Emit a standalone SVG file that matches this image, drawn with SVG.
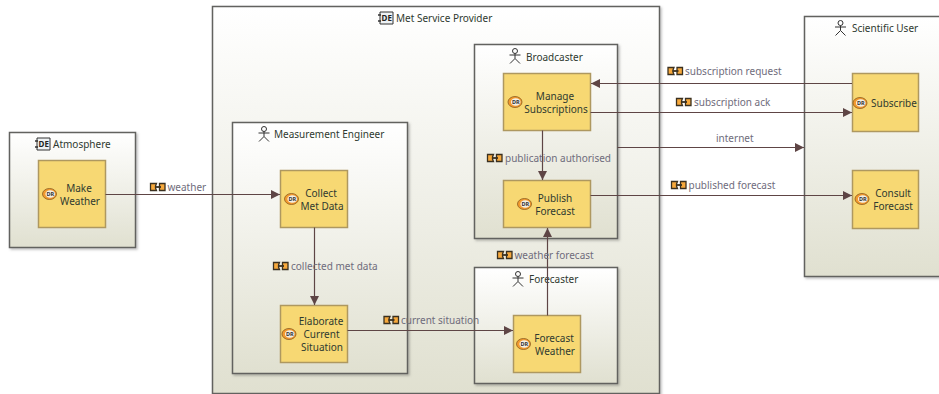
<svg xmlns="http://www.w3.org/2000/svg" xmlns:xlink="http://www.w3.org/1999/xlink" width="939" height="394" viewBox="0 0 939 394">
<style>
text{font-family:"Noto Sans","Liberation Sans",sans-serif;font-size:10px;fill:#2f3a30}
.t{text-anchor:middle}
.lbl{fill:#6f6c7c}
.box{stroke:#62625e;stroke-width:1.5}
.act{fill:#f7d873;stroke:#ae9860;stroke-width:1.5}
.con{fill:none;stroke:#5e4545;stroke-width:1.2}
.dr{font-size:5.5px;font-weight:bold;text-anchor:middle;fill:#333}
.de{font-size:8px;font-weight:bold;fill:#222;text-anchor:middle}
.st{fill:none;stroke:#333;stroke-width:1}
</style>
<defs>
<linearGradient id="g" x1="0" y1="0" x2="0" y2="1"><stop offset="0" stop-color="#ffffff"/><stop offset="1" stop-color="#e0e0d0"/></linearGradient>
<filter id="s" x="-5%" y="-5%" width="110%" height="110%"><feDropShadow dx="1.5" dy="1.5" stdDeviation="1" flood-color="#000" flood-opacity=".25"/></filter>
<marker id="a" markerUnits="userSpaceOnUse" markerWidth="10" markerHeight="10" refX="9" refY="5" orient="auto"><path d="M0 0.5L9 5L0 9.5Z" fill="#5e4545"/></marker>
<g id="dr"><ellipse cx="0" cy="0" rx="7" ry="5.5" fill="#f39a2e" stroke="#8a5a20" stroke-width=".8"/><ellipse cx="0.7" cy="0" rx="4.8" ry="3.8" fill="#f2efe6"/><text class="dr" x="0.7" y="2">DR</text></g>
<g id="ci"><path d="M-6-6H7V6H-6Z" fill="#eef2f4" stroke="#333"/><path d="M-8-3H-5M-8 3H-5" stroke="#333" stroke-width="1.5"/><text class="de" x="0.7" y="3">DE</text></g>
<g id="actor"><circle cx="0" cy="-4.500" r="2.500" class="st"/><path class="st" d="M0-2V3M-5.500-.5H5.500M-5 8L0 3L5 8"/></g>
<g id="ex"><path d="M0.500-3.500H6.500L5.500-1V1L6.500 3.500H0.500Z" fill="#f7a93c" stroke="#3a3020" stroke-width="1.300"/><path d="M9.500-3.500H15V3.500H9.500Z" fill="#f7a93c" stroke="#3a3020" stroke-width="1.300"/><path d="M5 0H11" stroke="#3a3020" stroke-width="1.800"/></g>
</defs>

<g id="atmosphere">
<rect class="box" x="9.500" y="132.500" width="126" height="115" fill="url(#g)" filter="url(#s)"/>
<use xlink:href="#ci" x="43" y="144"/>
<text x="53" y="148">Atmosphere</text>
</g>
<g id="make-weather">
<rect class="act" x="38.500" y="160.500" width="67" height="67"/>
<use xlink:href="#dr" x="49.500" y="194"/>
<text class="t" x="79" y="192">Make</text><text class="t" x="80" y="205">Weather</text>
</g>

<g id="met-service-provider">
<rect class="box" x="212.500" y="6.500" width="447" height="387" fill="url(#g)" filter="url(#s)"/>
<use xlink:href="#ci" x="386" y="18"/>
<text x="396" y="22">Met Service Provider</text>
</g>

<g id="measurement-engineer">
<rect class="box" x="232.500" y="122.500" width="175" height="251" fill="url(#g)" filter="url(#s)"/>
<use xlink:href="#actor" x="264" y="133.500"/>
<text x="274" y="138">Measurement Engineer</text>
</g>
<g id="collect-met-data">
<rect class="act" x="280.500" y="170.500" width="67" height="57"/>
<use xlink:href="#dr" x="291.500" y="199"/>
<text class="t" x="321" y="196.500">Collect</text><text class="t" x="322" y="209.500">Met Data</text>
</g>
<g id="elaborate-current-situation">
<rect class="act" x="280.500" y="305.500" width="67" height="57"/>
<use xlink:href="#dr" x="289" y="334"/>
<text class="t" x="321" y="325">Elaborate</text><text class="t" x="321.500" y="338">Current</text><text class="t" x="322" y="351">Situation</text>
</g>

<g id="broadcaster">
<rect class="box" x="474.500" y="44.500" width="143" height="194" fill="url(#g)" filter="url(#s)"/>
<use xlink:href="#actor" x="515" y="55.500"/>
<text x="526" y="61">Broadcaster</text>
</g>
<g id="manage-subscriptions">
<rect class="act" x="503.500" y="73.500" width="87" height="57"/>
<use xlink:href="#dr" x="515" y="102"/>
<text class="t" x="555" y="100">Manage</text><text class="t" x="556" y="113">Subscriptions</text>
</g>
<g id="publish-forecast">
<rect class="act" x="503.500" y="180.500" width="87" height="47"/>
<use xlink:href="#dr" x="524.500" y="204"/>
<text class="t" x="555" y="202">Publish</text><text class="t" x="555" y="215">Forecast</text>
</g>

<g id="forecaster">
<rect class="box" x="474.500" y="267.500" width="143" height="116" fill="url(#g)" filter="url(#s)"/>
<use xlink:href="#actor" x="518" y="278.500"/>
<text x="529" y="283">Forecaster</text>
</g>
<g id="forecast-weather">
<rect class="act" x="513.500" y="315.500" width="67" height="57"/>
<use xlink:href="#dr" x="523.500" y="344"/>
<text class="t" x="554" y="342">Forecast</text><text class="t" x="555" y="355">Weather</text>
</g>

<g id="scientific-user">
<rect class="box" x="804.500" y="16.500" width="140" height="260" fill="url(#g)" filter="url(#s)"/>
<use xlink:href="#actor" x="840.500" y="27.500"/>
<text x="852" y="32">Scientific User</text>
</g>
<g id="subscribe">
<rect class="act" x="852.500" y="73.500" width="66" height="58"/>
<use xlink:href="#dr" x="860" y="103"/>
<text x="871" y="107">Subscribe</text>
</g>
<g id="consult-forecast">
<rect class="act" x="852.500" y="170.500" width="66" height="58"/>
<use xlink:href="#dr" x="862" y="199"/>
<text class="t" x="893" y="197">Consult</text><text class="t" x="893" y="210">Forecast</text>
</g>

<g id="connectors">
<path class="con" marker-end="url(#a)" d="M105.500 194.500H280"/>
<path class="con" marker-end="url(#a)" d="M314.500 227.500V305"/>
<path class="con" marker-end="url(#a)" d="M347.500 330.500H513"/>
<path class="con" marker-end="url(#a)" d="M547.500 315.500V228"/>
<path class="con" marker-end="url(#a)" d="M542.500 130.500V180"/>
<path class="con" marker-end="url(#a)" d="M852 83.500H591"/>
<path class="con" marker-end="url(#a)" d="M590.500 112.500H852"/>
<path class="con" marker-end="url(#a)" d="M617.500 147.500H804"/>
<path class="con" marker-end="url(#a)" d="M590.500 195.500H852"/>
<use xlink:href="#ex" x="150" y="187"/><text class="lbl" x="167.500" y="191">weather</text>
<use xlink:href="#ex" x="273" y="266"/><text class="lbl" x="291" y="270">collected met data</text>
<use xlink:href="#ex" x="383.500" y="320"/><text class="lbl" x="401" y="324">current situation</text>
<use xlink:href="#ex" x="497" y="255"/><text class="lbl" x="514.500" y="259">weather forecast</text>
<use xlink:href="#ex" x="487" y="158"/><text class="lbl" x="505" y="162">publication authorised</text>
<use xlink:href="#ex" x="667.500" y="71"/><text class="lbl" x="685" y="75">subscription request</text>
<use xlink:href="#ex" x="676" y="102"/><text class="lbl" x="694" y="106">subscription ack</text>
<text class="lbl" x="716" y="142">internet</text>
<use xlink:href="#ex" x="671" y="185"/><text class="lbl" x="688.500" y="189">published forecast</text>
</g>
</svg>
